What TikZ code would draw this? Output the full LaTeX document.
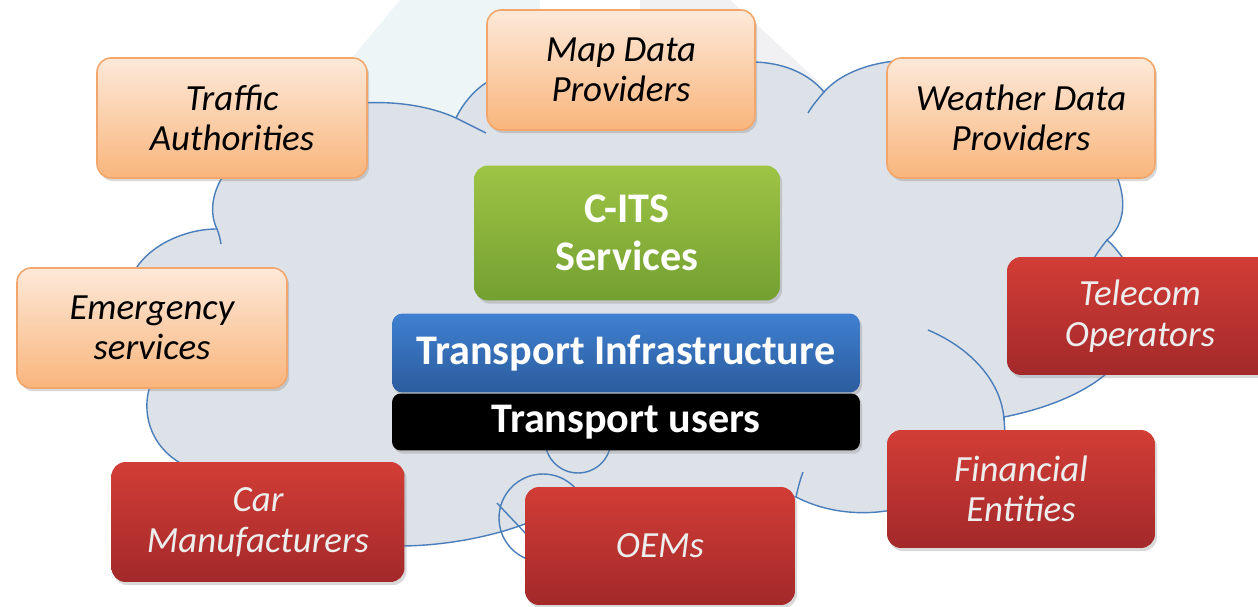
\documentclass[tikz,border=0pt]{standalone}
\usepackage{fontspec}
\setmainfont{Carlito}
\usetikzlibrary{shadows}
\definecolor{orTop}{HTML}{FDE9D9}
\definecolor{orBot}{HTML}{F9B57C}
\definecolor{orEdge}{HTML}{F3A66C}
\definecolor{rdTop}{HTML}{D23D36}
\definecolor{rdBot}{HTML}{A3292A}
\definecolor{gnTop}{HTML}{9EC445}
\definecolor{gnBot}{HTML}{74A031}
\definecolor{blTop}{HTML}{3F80D0}
\definecolor{blBot}{HTML}{2B5C9E}
\definecolor{cloudFill}{HTML}{DDE1E8}
\definecolor{cloudLine}{HTML}{4A7EBB}
\definecolor{faceBlue}{HTML}{EEF5F7}
\definecolor{faceGray}{HTML}{F1F1F3}
\tikzset{
  box/.style={rounded corners=8pt, inner sep=0pt, align=center,
    minimum width=5.4cm, minimum height=2.4cm,
    drop shadow={shadow xshift=1.2pt, shadow yshift=-1.8pt, opacity=0.3}},
  orbox/.style={box, top color=orTop, bottom color=orBot, draw=orEdge, line width=0.9pt,
    font=\fontsize{21}{23}\selectfont\itshape, text=black},
  rdbox/.style={box, top color=rdTop, bottom color=rdBot,
    font=\fontsize{21}{23}\selectfont\itshape, text=white!93!black},
  gnbox/.style={box, top color=gnTop, bottom color=gnBot,
    font=\fontsize{24}{27}\selectfont\bfseries, text=white},
  blbox/.style={box, rounded corners=6pt, top color=blTop, bottom color=blBot,
    font=\fontsize{24}{27}\selectfont\bfseries, text=white},
  bkbox/.style={box, rounded corners=5pt, fill=black,
    font=\fontsize{24}{27}\selectfont\bfseries, text=white},
  cloudline/.style={draw=cloudLine, line width=0.8pt},
}
\begin{document}
\begin{tikzpicture}[x=0.02cm, y=-0.02cm]
\useasboundingbox (0,0) rectangle (1258,607);
% faint background faces
\fill[faceBlue] (400,0) -- (540,0) -- (540,130) -- (292,130) -- cycle;
\fill[faceGray] (640,0) -- (730,0) -- (862,122) -- (640,122) -- cycle;
% cloud
\path[fill=cloudFill, cloudline]
  (223,176) .. controls (211,195) and (210,215) .. (217,229)
  .. controls (185,229) and (150,245) .. (135,270)
  -- (150,386)
  .. controls (142,410) and (148,445) .. (182,464)
  -- (400,546)
  .. controls (440,546) and (490,538) .. (530,522)
  -- (790,497) -- (796,497)
  .. controls (825,512) and (860,516) .. (892,510)
  -- (1005,434) -- (1004,417)
  .. controls (1040,410) and (1080,396) .. (1106,374)
  -- (1120,262) -- (1122,257)
  .. controls (1117,250) and (1112,244) .. (1107,240)
  .. controls (1125,225) and (1127,200) .. (1116,174)
  -- (940,62)
  .. controls (890,55) and (845,68) .. (824,92)
  .. controls (810,75) and (785,62) .. (751,62)
  -- (491,80)
  .. controls (475,88) and (462,105) .. (456,118)
  .. controls (430,106) and (395,101) .. (363,103)
  -- cycle;
% inner arcs of the cloud
\draw[cloudline] (456,118) .. controls (466,123) and (476,128) .. (486,133);
\draw[cloudline] (824,92) .. controls (818,99) and (812,106) .. (808,113);
\draw[cloudline] (217,229) .. controls (219,234) and (220,238) .. (221,244);
\draw[cloudline] (1107,240) .. controls (1102,246) and (1098,252) .. (1094,258);
\draw[cloudline] (928,330) .. controls (975,350) and (1002,385) .. (1004,420);
\draw[cloudline] (796,497) .. controls (798,488) and (800,480) .. (803,472);
\draw[cloudline] (578,440) circle [radius=0.66cm];
\draw[cloudline] (543,518) circle [radius=0.88cm];
\draw[cloudline] (497,503) .. controls (507,514) and (517,524) .. (527,535);
% boxes
\node[orbox] (traffic) at (232,118) {Traffic\\Authorities};
\node[orbox, minimum width=5.36cm] (map) at (621,70) {Map Data\\Providers};
\node[orbox, minimum width=5.36cm] (weather) at (1021,118) {Weather Data\\Providers};
\node[orbox] (emerg) at (152,328) {Emergency\\services};
\node[gnbox, minimum width=6.12cm, minimum height=2.7cm] (cits) at (627,233) {C-ITS\\Services};
\node[rdbox, minimum width=5.32cm, minimum height=2.36cm] (telecom) at (1140,316) {Telecom\\Operators};
\node[blbox, minimum width=9.36cm, minimum height=1.58cm] (infra) at (626,353) {Transport Infrastructure};
\node[bkbox, minimum width=9.36cm, minimum height=1.14cm] (users) at (626,422) {Transport users};
\node[rdbox, minimum width=5.86cm] (car) at (258,522) {Car\\Manufacturers};
\node[rdbox, minimum height=2.36cm] (oems) at (660,546) {OEMs};
\node[rdbox, minimum width=5.36cm, minimum height=2.36cm] (fin) at (1021,489) {Financial\\Entities};
\end{tikzpicture}
\end{document}
